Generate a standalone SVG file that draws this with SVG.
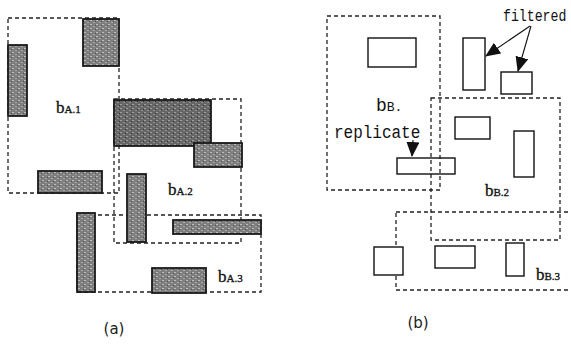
<svg xmlns="http://www.w3.org/2000/svg" width="571" height="347" viewBox="0 0 571 347">
<style>
.box{fill:none;stroke:#222;stroke-width:1.3;stroke-dasharray:4 3}
.g{fill:url(#tex);stroke:#1a1a1a;stroke-width:1.8}
.gd{fill:url(#texd);stroke:#1a1a1a;stroke-width:1.8}
.w{fill:none;stroke:#111;stroke-width:1.4}
.lbl{font-family:"Liberation Serif",serif;fill:#111;stroke:#111;stroke-width:0.3}
.mono{font-family:"Liberation Mono","DejaVu Sans Mono",monospace;fill:#111}
.cap{font-family:"DejaVu Sans",sans-serif;font-size:15px;fill:#222}
.arr{stroke:#111;stroke-width:1.1;fill:none;marker-end:url(#ah)}
</style>
<defs>
<pattern id="tex" width="6" height="4" patternUnits="userSpaceOnUse">
<rect width="6" height="4" fill="#7e7e7e"/>
<rect x="0" y="0" width="2" height="1" fill="#bdbdbd"/>
<rect x="3" y="2" width="2" height="1" fill="#a8a8a8"/>
<rect x="5" y="1" width="1" height="1" fill="#505050"/>
</pattern>
<pattern id="texd" width="6" height="4" patternUnits="userSpaceOnUse">
<rect width="6" height="4" fill="#666"/>
<rect x="0" y="0" width="2" height="1" fill="#a0a0a0"/>
<rect x="3" y="2" width="2" height="1" fill="#909090"/>
<rect x="5" y="1" width="1" height="1" fill="#333"/>
</pattern>
<marker id="ah" markerUnits="userSpaceOnUse" markerWidth="15" markerHeight="13" refX="14" refY="6.5" orient="auto">
<path d="M0,0 L15,6.5 L0,13 z" fill="#111"/>
</marker>
</defs>

<g id="panel-a">
<g id="bA1">
<rect class="box" x="8" y="18" width="111" height="175"/>
<text class="lbl" x="56" y="113" font-size="17">b<tspan font-size="11">A.1</tspan></text>
</g>
<g id="bA2">
<rect class="box" x="114" y="99" width="127" height="144"/>
<text class="lbl" x="168" y="195" font-size="17">b<tspan font-size="11">A.2</tspan></text>
</g>
<g id="bA3">
<rect class="box" x="77" y="215" width="184" height="77"/>
<text class="lbl" x="218" y="282" font-size="17">b<tspan font-size="11">A.3</tspan></text>
</g>
<g id="a-rects">
<rect class="g" x="83" y="19" width="36" height="47"/>
<rect class="g" x="8" y="45" width="19" height="71"/>
<rect class="g" x="38" y="171" width="64" height="22"/>
<rect class="gd" x="114" y="100" width="97" height="46"/>
<rect class="g" x="194" y="143" width="48" height="24"/>
<rect class="g" x="127" y="174" width="19" height="68"/>
<rect class="g" x="77" y="213" width="18" height="79"/>
<rect class="g" x="173" y="220" width="88" height="14"/>
<rect class="g" x="152" y="268" width="54" height="25"/>
</g>
<text class="cap" x="114" y="334" text-anchor="middle">(a)</text>
</g>

<g id="panel-b">
<g id="bB1">
<rect class="box" x="327" y="16" width="113" height="174"/>
<text class="mono" x="376" y="111" font-size="18">b<tspan font-size="13">B.</tspan></text>
<text class="mono" transform="translate(334,138) scale(1,1.1)" font-size="16">replicate</text>
</g>
<g id="bB2">
<rect class="box" x="431" y="98" width="129" height="142"/>
<text class="lbl" x="485" y="196" font-size="17">b<tspan font-size="11">B.2</tspan></text>
</g>
<g id="bB3">
<rect class="box" x="396" y="212" width="180" height="78"/>
<text class="lbl" x="536" y="280" font-size="17">b<tspan font-size="11">B.3</tspan></text>
</g>
<g id="filtered">
<text class="mono" transform="translate(503,21) scale(1,1.25)" font-size="13.2">filtered</text>
</g>
<g id="b-rects">
<rect class="w" x="368" y="38" width="48" height="29"/>
<rect class="w" x="397" y="158" width="58" height="16"/>
<rect class="w" x="463" y="38" width="22" height="52"/>
<rect class="w" x="501" y="72" width="31" height="22"/>
<rect class="w" x="455" y="117" width="35" height="22"/>
<rect class="w" x="514" y="131" width="20" height="46"/>
<rect class="w" x="374" y="247" width="29" height="28" style="fill:#fff"/>
<rect class="w" x="435" y="246" width="40" height="22"/>
<rect class="w" x="506" y="243" width="18" height="33"/>
</g>
<text class="cap" x="418" y="328" text-anchor="middle">(b)</text>
</g>

<g id="connectors">
<path class="arr" d="M413,140 L412,156"/>
<path class="arr" d="M530,26 L486,56"/>
<path class="arr" d="M531,26 L518,71"/>
</g>
</svg>
